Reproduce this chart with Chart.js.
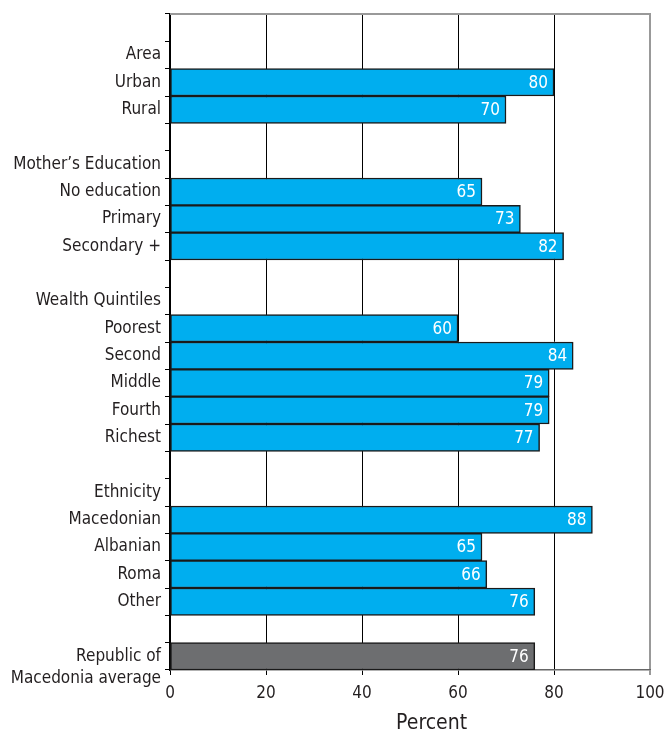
<!DOCTYPE html>
<html>
<head>
<meta charset="utf-8">
<script src="https://cdn.jsdelivr.net/npm/chart.js@4.4.1/dist/chart.umd.min.js"></script>
<style>
  body { margin: 0; background: #fff; }
  canvas { display: block; }
</style>
</head>
<body>
<canvas id="groupChart" width="664" height="735"></canvas>
<script>
// rows of the chart, headers and spacer rows have no value
const categories = [
  '', 'Area', 'Urban', 'Rural',
  '', 'Mother\u2019s Education', 'No education', 'Primary', 'Secondary +',
  '', 'Wealth Quintiles', 'Poorest', 'Second', 'Middle', 'Fourth', 'Richest',
  '', 'Ethnicity', 'Macedonian', 'Albanian', 'Roma', 'Other',
  '', ['', 'Republic of', 'Macedonia average']
];
const values = [
  null, null, 80, 70,
  null, null, 65, 73, 82,
  null, null, 60, 84, 79, 79, 77,
  null, null, 88, 65, 66, 76,
  null, 76
];
const xTicks = [0, 20, 40, 60, 80, 100];

const FONT = "'Liberation Sans Narrow', 'DejaVu Sans Condensed', 'Liberation Sans', sans-serif";
const textColor = '#231f20';

// white value labels inside the end of each bar
const barValues = {
  id: 'barValues',
  afterDatasetsDraw(chart) {
    const ctx = chart.ctx;
    const meta = chart.getDatasetMeta(0);
    ctx.save();
    ctx.fillStyle = '#ffffff';
    ctx.font = '17px ' + FONT;
    ctx.textAlign = 'right';
    ctx.textBaseline = 'middle';
    meta.data.forEach((bar, i) => {
      if (values[i] === null) return;
      ctx.fillText(values[i], bar.x - 6, bar.y + 1);
    });
    ctx.restore();
  }
};

// grey frame on top, axis title under the ticks
const frame = {
  id: 'frame',
  afterDraw(chart) {
    const ctx = chart.ctx;
    const area = chart.chartArea;
    const x = chart.scales.x;
    ctx.save();
    ctx.strokeStyle = '#999999';
    ctx.lineWidth = 2;
    ctx.beginPath();
    ctx.moveTo(area.left, area.top);
    ctx.lineTo(area.right + 1, area.top);
    ctx.stroke();
    ctx.fillStyle = textColor;
    ctx.font = '21px ' + FONT;
    ctx.textAlign = 'center';
    ctx.textBaseline = 'middle';
    ctx.fillText('Percent', x.getPixelForValue(54.5), area.bottom + 54);
    ctx.restore();
  }
};

const ctx = document.getElementById('groupChart').getContext('2d');
new Chart(ctx, {
  type: 'bar',
  data: {
    labels: categories,
    datasets: [{
      data: values,
      backgroundColor: c => c.dataIndex === values.length - 1 ? '#6d6e70' : '#00aeef',
      borderColor: '#1a1a1a',
      borderWidth: 1.5,
      borderSkipped: false,
      categoryPercentage: 1,
      barPercentage: 1
    }]
  },
  options: {
    indexAxis: 'y',
    responsive: false,
    animation: false,
    layout: { padding: { top: 14, right: 14 } },
    plugins: {
      legend: { display: false },
      tooltip: { enabled: false }
    },
    scales: {
      x: {
        min: 0,
        max: 100,
        afterBuildTicks: s => { s.ticks = xTicks.map(v => ({ value: v })); },
        afterFit: s => { s.height = 65; s.paddingLeft = 0; s.paddingRight = 0; },
        border: { display: true, color: '#666666', width: 1.5 },
        grid: {
          color: c => (c.tick && c.tick.value === 100) ? '#999999' : '#000000',
          lineWidth: c => (c.tick && c.tick.value === 100) ? 2 : 1,
          tickLength: 5
        },
        ticks: {
          color: textColor,
          font: { family: FONT, size: 17 },
          padding: 8,
          maxRotation: 0
        }
      },
      y: {
        afterFit: s => { s.width = 170; s.paddingTop = 0; s.paddingBottom = 0; },
        border: { display: true, color: '#000000', width: 1.5 },
        grid: {
          offset: true,
          drawOnChartArea: false,
          color: '#000000',
          tickLength: 5
        },
        ticks: {
          color: textColor,
          font: { family: FONT, size: 17, lineHeight: 1.3 },
          padding: 4,
          autoSkip: false
        }
      }
    }
  },
  plugins: [barValues, frame]
});
</script>
</body>
</html>
